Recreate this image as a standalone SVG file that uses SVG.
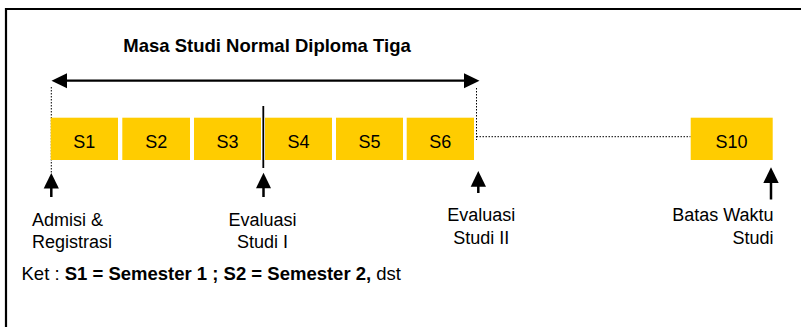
<svg xmlns="http://www.w3.org/2000/svg" width="801" height="327" viewBox="0 0 801 327">
<style>
text{font-family:"Liberation Sans",Arial,sans-serif;fill:#000}
.t{font-size:18px}
.b{font-weight:bold}
.box{fill:#FFCC00}
.lbl{font-size:18px;text-anchor:middle}
.dot{stroke:#000;stroke-width:1;stroke-dasharray:1.5 1.5;fill:none}
.ln{stroke:#000;fill:none}
.ah{fill:#000}
</style>
<rect width="801" height="327" fill="#fff"/>
<path d="M6 327 V9 H801" class="ln" stroke-width="2.2"/>
<text x="267" y="51.5" font-size="18.5" class="b" text-anchor="middle">Masa Studi Normal Diploma Tiga</text>
<g id="connectors">
  <path d="M66 80.7 H464" class="ln" stroke-width="2.2"/>
  <polygon class="ah" points="51.5,80.7 67,73.2 67,88.2"/>
  <polygon class="ah" points="479.5,80.7 464,73.2 464,88.2"/>
  <path d="M51.3 87 V173" class="dot"/>
  <path d="M476.5 88 V140" class="dot"/>
  <path d="M476.5 136.7 H690.5" class="dot"/>
  <path d="M263.3 106 V168" class="ln" stroke-width="1.8"/>
  <path d="M51.3 186 V197" class="ln" stroke-width="2.5"/>
  <polygon class="ah" points="51.3,173 43.7,188.5 58.9,188.5"/>
  <path d="M263.5 186 V197" class="ln" stroke-width="2.5"/>
  <polygon class="ah" points="263.5,172.7 256,188.3 271,188.3"/>
  <path d="M478.3 185 V193" class="ln" stroke-width="2.5"/>
  <polygon class="ah" points="478.3,171 470.7,186.7 486,186.7"/>
  <path d="M771 181 V199.5" class="ln" stroke-width="2.5"/>
  <polygon class="ah" points="771,167.3 763.3,183 778.7,183"/>
</g>
<g id="S1"><rect class="box" x="50.7" y="117.7" width="67.3" height="42.3"/><text class="lbl" x="84.3" y="147.7">S1</text></g>
<g id="S2"><rect class="box" x="122.3" y="117.7" width="67.7" height="42.3"/><text class="lbl" x="156.2" y="147.7">S2</text></g>
<g id="S3"><rect class="box" x="194" y="117.7" width="67" height="42.3"/><text class="lbl" x="227.5" y="147.7">S3</text></g>
<g id="S4"><rect class="box" x="265" y="117.7" width="67" height="42.3"/><text class="lbl" x="298.5" y="147.7">S4</text></g>
<g id="S5"><rect class="box" x="336" y="117.7" width="67" height="42.3"/><text class="lbl" x="369.5" y="147.7">S5</text></g>
<g id="S6"><rect class="box" x="406.7" y="117.7" width="67.3" height="42.3"/><text class="lbl" x="440.3" y="147.7">S6</text></g>
<g id="S10"><rect class="box" x="690.7" y="117.7" width="82" height="42.3"/><text class="lbl" x="731.5" y="147.5">S10</text></g>
<g id="admisi"><text class="t" x="32" y="225.5">Admisi &amp;</text><text class="t" x="32" y="247.5">Registrasi</text></g>
<g id="eval1"><text class="t" x="262.5" y="225.5" text-anchor="middle">Evaluasi</text><text class="t" x="262.5" y="247.5" text-anchor="middle">Studi I</text></g>
<g id="eval2"><text class="t" x="481.3" y="221" text-anchor="middle">Evaluasi</text><text class="t" x="481.3" y="244" text-anchor="middle">Studi II</text></g>
<g id="batas"><text class="t" x="773.5" y="221" text-anchor="end">Batas Waktu</text><text class="t" x="773.5" y="244" text-anchor="end">Studi</text></g>
<text x="21.5" y="280" font-size="18.5">Ket : <tspan class="b">S1 = Semester 1 ; S2 = Semester 2,</tspan> dst</text>
</svg>
